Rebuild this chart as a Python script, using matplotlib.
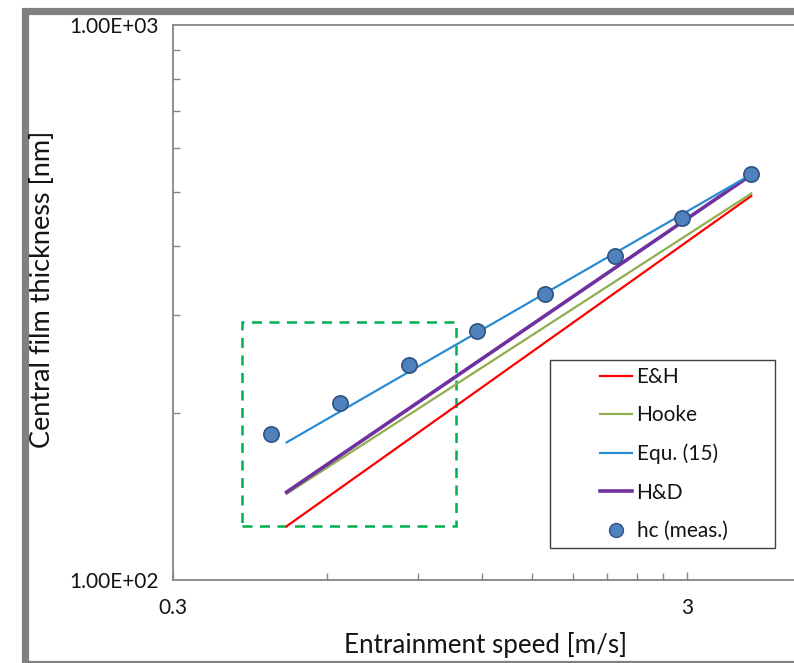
import matplotlib
matplotlib.use("Agg")
import matplotlib.pyplot as plt
from matplotlib.patches import Rectangle
from matplotlib.lines import Line2D
from matplotlib.ticker import FixedLocator, FuncFormatter, NullFormatter

plt.rcParams["font.family"] = ["Lato", "DejaVu Sans"]

# measured central film thickness
speed_meas = [0.466, 0.635, 0.865, 1.17, 1.59, 2.17, 2.94, 4.0]
hc_meas = [183, 208, 244, 281, 327, 383, 449, 538]

# model predictions (straight lines on log-log)
speed_model = [0.5, 4.0]
hc_eh = [125, 492]
hc_hooke = [143, 497]
hc_equ15 = [177, 538]
hc_hd = [144, 537]

# highlighted region (dashed box)
box_speed = [0.41, 1.067]
box_hc = [125.2, 292.2]

W, H = 794, 663
fig = plt.figure(figsize=(W / 100, H / 100), dpi=100)
fig.patch.set_facecolor("white")

# outer grey frame of the original chart (right side cropped)
fig.patches.append(Rectangle((24.5 / W, 1 - 663.5 / H), 1.2, (663.5 - 11) / H,
                             transform=fig.transFigure, fill=False,
                             edgecolor="#808080", linewidth=5.2, zorder=0))

ax = fig.add_axes([172.5 / W, (H - 580) / H, (1201.5 - 172.5) / W, 555 / H])
ax.set_xscale("log")
ax.set_yscale("log")
ax.set_xlim(0.3, 30)
ax.set_ylim(100, 1000)

ax.plot(speed_model, hc_eh, color="#FF0000", lw=1.6, label="E&H", zorder=3)
ax.plot(speed_model, hc_hooke, color="#8FAE4F", lw=1.6, label="Hooke", zorder=3)
ax.plot(speed_model, hc_hd, color="#7030A0", lw=2.6, label="H&D", zorder=4)
ax.plot(speed_model, hc_equ15, color="#2A8BD0", lw=1.6, label="Equ. (15)", zorder=5)
ax.plot(speed_meas, hc_meas, "o", ms=11, mfc="#4F81BD", mec="#2F5282", mew=1.2,
        label="hc (meas.)", zorder=6)

ax.add_patch(Rectangle((box_speed[0], box_hc[0]), box_speed[1] - box_speed[0],
                       box_hc[1] - box_hc[0], fill=False, edgecolor="#00B050",
                       linestyle=(0, (4, 3)), linewidth=1.8, zorder=2))

# Excel style log ticks (only 0.3 and 3 are inside the visible part)
ax.xaxis.set_major_locator(FixedLocator([0.3, 3]))
ax.xaxis.set_minor_locator(FixedLocator([0.3 * k for k in range(2, 10)] + [3 * k for k in range(2, 11)]))
ax.xaxis.set_major_formatter(FuncFormatter(lambda v, p: f"{v:g}"))
ax.xaxis.set_minor_formatter(NullFormatter())
ax.yaxis.set_major_locator(FixedLocator([100, 1000]))
ax.yaxis.set_minor_locator(FixedLocator([100 * k for k in range(2, 10)]))
ax.yaxis.set_major_formatter(FuncFormatter(lambda v, p: f"{v:.2E}"))
ax.yaxis.set_minor_formatter(NullFormatter())

ax.tick_params(which="both", direction="in", color="#868686", labelsize=15, labelcolor="#141414")
ax.tick_params(which="major", length=6, width=1, pad=13)
ax.tick_params(which="minor", length=5, width=1)
ax.tick_params(axis="y", which="major", length=0, pad=10)

for side in ["left", "bottom", "top"]:
    ax.spines[side].set_color("#868686")
    ax.spines[side].set_linewidth(1.3)
ax.spines["right"].set_visible(False)

fig.text(486 / W, 1 - 645 / H, "Entrainment speed [m/s]", ha="center", va="center",
         fontsize=18.7, color="#141414")
fig.text(43 / W, 1 - 289 / H, "Central film thickness [nm]", ha="center", va="center",
         rotation=90, fontsize=19.5, color="#141414")

# legend box
fig.patches.append(Rectangle((549.5 / W, 1 - 548 / H), (775 - 549.5) / W, (548 - 359.5) / H,
                             transform=fig.transFigure, facecolor="white",
                             edgecolor="#404040", linewidth=1.0, zorder=5))
handles, labels = ax.get_legend_handles_labels()
order = ["E&H", "Hooke", "Equ. (15)", "H&D", "hc (meas.)"]
hmap = dict(zip(labels, handles))
leg_handles = []
for name in order:
    h = hmap[name]
    if name == "hc (meas.)":
        leg_handles.append(Line2D([], [], ls="none", marker="o", ms=10, mfc="#4F81BD",
                                  mec="#2F5282", mew=1.0))
    else:
        leg_handles.append(Line2D([], [], color=h.get_color(), lw=h.get_linewidth()))
leg = fig.legend(leg_handles, order, loc="upper left", bbox_to_anchor=(598 / W, 1 - 365 / H),
                 frameon=False, fontsize=15, handlelength=1.55, handletextpad=0.2,
                 labelspacing=0.88, borderpad=0.1, borderaxespad=0)
leg.set_zorder(6)
for t in leg.get_texts():
    t.set_color("#141414")

fig.savefig("out.png", dpi=100)
